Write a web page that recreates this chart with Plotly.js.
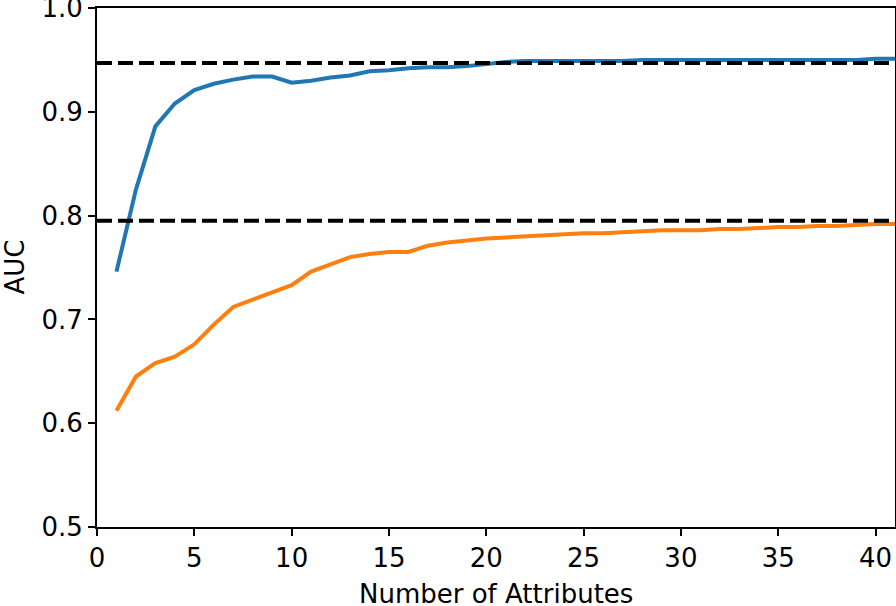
<!DOCTYPE html>
<html>
<head>
<meta charset="utf-8">
<script src="https://cdn.plot.ly/plotly-3.0.1.min.js"></script>
<style>
  html, body { margin: 0; padding: 0; background: #fff; }
  #chart { width: 896px; height: 606px; }
</style>
</head>
<body>
<div id="chart"></div>
<script>
// number of attributes used
var attributes = [1, 2, 3, 4, 5, 6, 7, 8, 9, 10, 11, 12, 13, 14, 15, 16, 17, 18, 19, 20,
  21, 22, 23, 24, 25, 26, 27, 28, 29, 30, 31, 32, 33, 34, 35, 36, 37, 38, 39, 40, 41];

var aucBlue = [0.746, 0.825, 0.886, 0.908, 0.921, 0.927, 0.931, 0.934, 0.934, 0.928,
  0.930, 0.933, 0.935, 0.939, 0.940, 0.942, 0.943, 0.943, 0.944, 0.946,
  0.948, 0.949, 0.949, 0.949, 0.949, 0.949, 0.949, 0.950, 0.950, 0.950,
  0.950, 0.950, 0.950, 0.950, 0.950, 0.950, 0.950, 0.950, 0.950, 0.951, 0.951];

var aucOrange = [0.612, 0.645, 0.658, 0.664, 0.676, 0.695, 0.712, 0.719, 0.725, 0.733,
  0.746, 0.753, 0.760, 0.763, 0.765, 0.765, 0.771, 0.774, 0.776, 0.778,
  0.779, 0.780, 0.781, 0.782, 0.783, 0.783, 0.784, 0.785, 0.786, 0.786,
  0.786, 0.787, 0.787, 0.788, 0.789, 0.789, 0.790, 0.790, 0.791, 0.792, 0.792];

// reference levels (dashed)
var refLevels = [0.947, 0.795];
var refSpan = [0, 41];

var font = "DejaVu Sans, sans-serif";
var txt = {family: font, size: 26, color: "#000"};

var data = [
  {x: attributes, y: aucBlue, mode: "lines", line: {color: "#1f77b4", width: 4}},
  {x: attributes, y: aucOrange, mode: "lines", line: {color: "#ff7f0e", width: 4}}
];

refLevels.forEach(function (v) {
  data.push({
    x: refSpan, y: [v, v], mode: "lines",
    line: {color: "#000000", width: 4, dash: "15px,6px"}
  });
});

var layout = {
  width: 896, height: 606,
  margin: {l: 97, r: 1, t: 8, b: 79},
  showlegend: false,
  paper_bgcolor: "#fff", plot_bgcolor: "#fff",
  font: txt,
  xaxis: {
    range: [0, 41], tickvals: [0, 5, 10, 15, 20, 25, 30, 35, 40],
    showgrid: false, zeroline: false,
    showline: true, mirror: true, linecolor: "#000", linewidth: 2,
    ticks: "outside", ticklen: 7, tickwidth: 2, tickcolor: "#000",
    tickfont: txt
  },
  yaxis: {
    range: [0.5, 1.0], tickvals: [0.5, 0.6, 0.7, 0.8, 0.9, 1.0], tickformat: ".1f",
    showgrid: false, zeroline: false, ticklabeloverflow: "allow",
    showline: true, mirror: true, linecolor: "#000", linewidth: 2,
    ticks: "outside", ticklen: 7, tickwidth: 2, tickcolor: "#000",
    tickfont: txt
  },
  // axis titles as annotations so they sit where the reference has them
  annotations: [
    {text: "Number of Attributes", xref: "paper", yref: "paper", x: 0.5, y: -0.129,
      xanchor: "center", yanchor: "middle", showarrow: false, font: txt, borderpad: 0},
    {text: "AUC", xref: "paper", yref: "paper", x: -0.104, y: 0.5, textangle: -90,
      xanchor: "center", yanchor: "middle", showarrow: false, font: txt, borderpad: 0}
  ]
};

Plotly.newPlot("chart", data, layout, {displayModeBar: false, staticPlot: true});
</script>
</body>
</html>
